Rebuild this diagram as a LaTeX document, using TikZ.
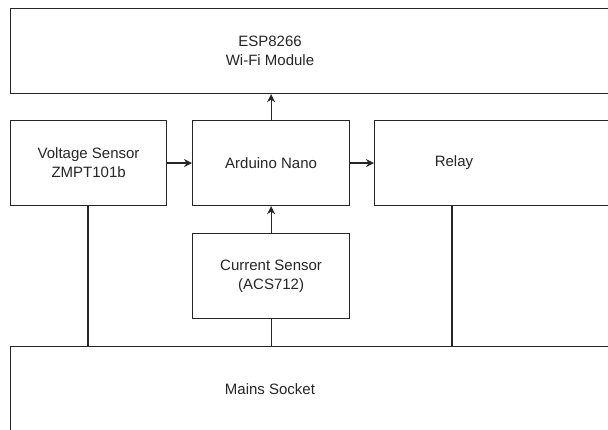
\documentclass[tikz,border=0pt]{standalone}
\usepackage{fontspec}
\setmainfont{Liberation Sans}
\usetikzlibrary{arrows.meta}
\begin{document}
\begin{tikzpicture}[x=1pt,y=-1pt,
  txt/.style={align=center,font=\fontsize{15}{19}\selectfont,text=black!85},
  blk/.style={draw=black!85,line width=1.2pt,fill=white,inner sep=0pt,txt},
  link/.style={draw=black!85,line width=1.2pt},
  arr/.style={link,-{Stealth[length=8pt,width=8pt]}}]
\useasboundingbox (0,0) rectangle (608,430);
\fill[white] (0,0) rectangle (608,430);
\clip (0,0) rectangle (608,430);
\node[blk,minimum width=602pt,minimum height=85pt,anchor=north west] (esp) at (10,8) {};
\node[txt] (esplbl) at (270,51) {ESP8266\\Wi-Fi Module};
\node[blk,minimum width=156pt,minimum height=85pt,anchor=north west] (volt) at (10,120) {Voltage Sensor\\ZMPT101b};
\node[blk,minimum width=157pt,minimum height=85pt,anchor=north west] (ard) at (192,120) {Arduino Nano};
\node[blk,minimum width=240pt,minimum height=85pt,anchor=north west] (relay) at (374,120) {};
\node[txt] (relaylbl) at (454,163) {Relay};
\node[blk,minimum width=157pt,minimum height=85pt,anchor=north west] (cur) at (192,233) {Current Sensor\\(ACS712)};
\node[blk,minimum width=602pt,minimum height=100pt,anchor=north west] (mains) at (10,346) {};
\node[txt] (mainslbl) at (270,389) {Mains Socket};
\draw[arr] (ard.north) -- (ard.north |- esp.south);
\draw[arr] (volt.east) -- (ard.west);
\draw[arr] (ard.east) -- (relay.west);
\draw[arr] (cur.north) -- (ard.south);
\draw[link] (cur.south) -- (cur.south |- mains.north);
\draw[link] ([xshift=78pt]volt.south west) -- ([xshift=78pt]volt.south west |- mains.north);
\draw[link] ([xshift=78pt]relay.south west) -- ([xshift=78pt]relay.south west |- mains.north);
\end{tikzpicture}
\end{document}
